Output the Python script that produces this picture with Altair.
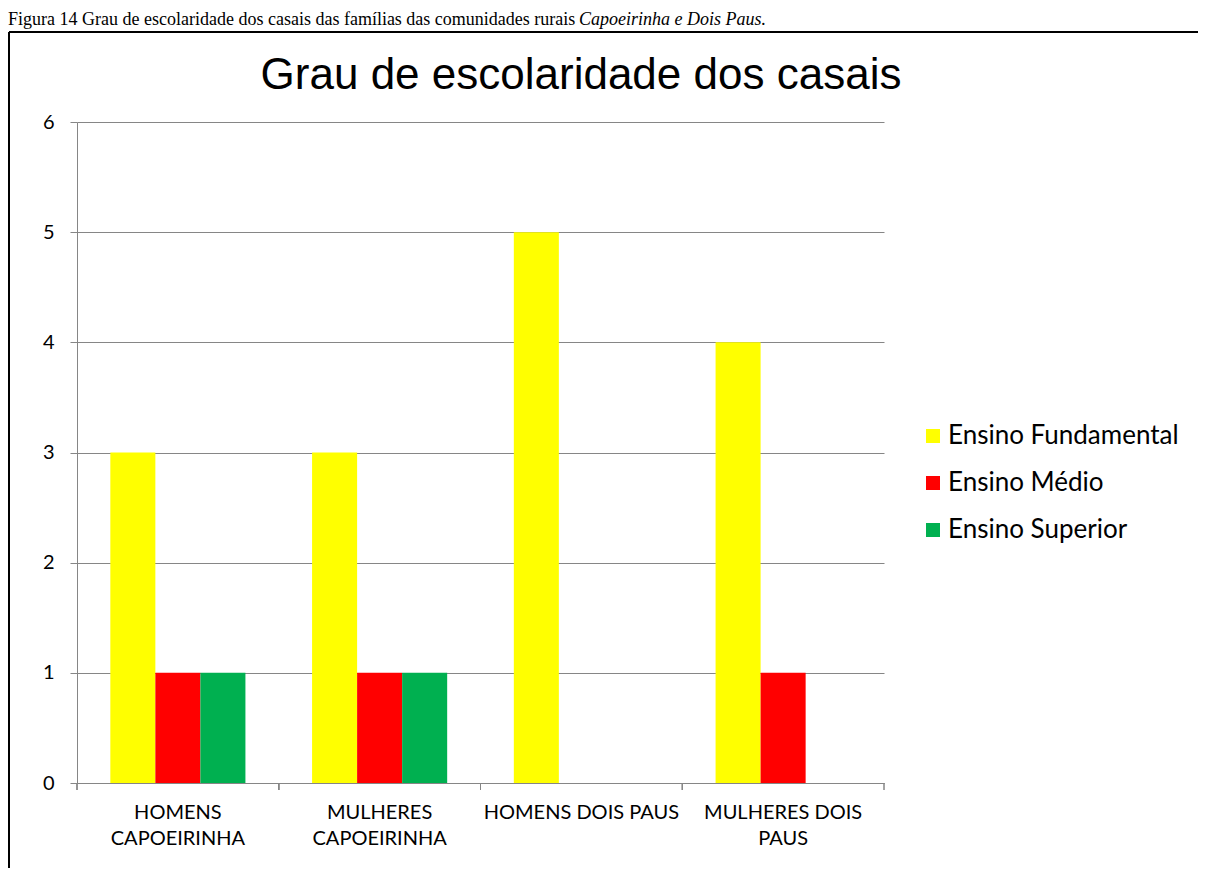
import altair as alt
import pandas as pd

# ---- data ----
categories = ["HOMENS CAPOEIRINHA", "MULHERES CAPOEIRINHA", "HOMENS DOIS PAUS", "MULHERES DOIS PAUS"]
levels = ["Ensino Fundamental", "Ensino Médio", "Ensino Superior"]
fundamental = [3, 3, 5, 4]
medio = [1, 1, 0, 1]
superior = [1, 1, 0, 0]
colors = ["#FFFF00", "#FF0000", "#00B050"]

title_text = "Grau de escolaridade dos casais"
caption_plain = "Figura 14 Grau de escolaridade dos casais das famílias das comunidades rurais"
caption_italic = "Capoeirinha e Dois Paus."

label_lines = {
    "HOMENS CAPOEIRINHA": ["HOMENS", "CAPOEIRINHA"],
    "MULHERES CAPOEIRINHA": ["MULHERES", "CAPOEIRINHA"],
    "HOMENS DOIS PAUS": ["HOMENS DOIS PAUS"],
    "MULHERES DOIS PAUS": ["MULHERES DOIS", "PAUS"],
}

rows = []
for i, c in enumerate(categories):
    for lvl, series in zip(levels, [fundamental, medio, superior]):
        if series[i] > 0:
            rows.append({"cat": c, "nivel": lvl, "valor": series[i]})
df = pd.DataFrame(rows)

W, H = 807, 661
PAD = {"left": 69, "top": 114, "right": 314, "bottom": 85}
GRAY = "#868686"
AXFONT = "Lato"

expr = ""
for k, v in label_lines.items():
    arr = "[" + ",".join("'" + s + "'" for s in v) + "]"
    expr += f"datum.label == '{k}' ? {arr} : "
expr += "datum.label"

x_enc = alt.X(
    "cat:N", sort=categories,
    scale=alt.Scale(paddingInner=0, paddingOuter=0),
    axis=alt.Axis(
        title=None, ticks=False, domainColor=GRAY, labelAngle=0,
        labelFont=AXFONT, labelFontSize=20, labelColor="#000000",
        labelPadding=19, labelLineHeight=26, labelExpr=expr, labelLimit=400,
    ),
)

bars = alt.Chart(df).mark_bar().encode(
    x=x_enc,
    xOffset=alt.XOffset("nivel:N", sort=levels,
                        scale=alt.Scale(domain=levels, paddingOuter=0.74, paddingInner=0)),
    y=alt.Y("valor:Q", scale=alt.Scale(domain=[0, 6]),
            axis=alt.Axis(title=None, values=[0, 1, 2, 3, 4, 5, 6], grid=True,
                          gridColor=GRAY, domainColor=GRAY, tickColor=GRAY, tickSize=7,
                          labelFont=AXFONT, labelFontSize=20, labelColor="#000000",
                          labelPadding=16)),
    color=alt.Color("nivel:N", sort=levels,
                    scale=alt.Scale(domain=levels, range=colors),
                    legend=alt.Legend(orient="none", legendX=843, legendY=301, title=None,
                                      symbolType="square", symbolSize=196, symbolStrokeWidth=0,
                                      labelFont=AXFONT, labelFontSize=26, labelColor="#000000",
                                      labelOffset=2, rowPadding=21, padding=0, labelLimit=400)),
)

ticks0 = alt.Chart(df).mark_rule(color=GRAY, strokeWidth=1).encode(
    x=alt.X("cat:N", sort=categories, bandPosition=0),
    y=alt.value(H), y2=alt.value(H + 7),
)
ticks1 = alt.Chart(df).mark_rule(color=GRAY, strokeWidth=1).encode(
    x=alt.X("cat:N", sort=categories, bandPosition=1),
    y=alt.value(H), y2=alt.value(H + 7),
)

one = pd.DataFrame({"t": [title_text]})
title_mark = alt.Chart(one).mark_text(
    font="Liberation Sans", fontSize=44, align="center", baseline="alphabetic", color="#000000"
).encode(text="t:N", x=alt.value(504), y=alt.value(-33))

cap = pd.DataFrame({"a": [caption_plain], "b": [caption_italic]})
cap1 = alt.Chart(cap).mark_text(
    font="Liberation Serif", fontSize=18, align="left", baseline="alphabetic", color="#000000"
).encode(text="a:N", x=alt.value(-69), y=alt.value(-97))
cap2 = alt.Chart(cap).mark_text(
    font="Liberation Serif", fontSize=18, fontStyle="italic", align="left",
    baseline="alphabetic", color="#000000"
).encode(text="b:N", x=alt.value(502), y=alt.value(-97))

frame_top = alt.Chart(one).mark_rule(color="#000000", strokeWidth=2).encode(
    x=alt.value(-68), x2=alt.value(1140), y=alt.value(-90))
frame_left = alt.Chart(one).mark_rule(color="#000000", strokeWidth=2).encode(
    x=alt.value(-68), y=alt.value(-90), y2=alt.value(780))

chart = alt.layer(
    frame_top, frame_left, cap1, cap2, title_mark, bars, ticks0, ticks1
).properties(
    width=W, height=H, autosize=alt.AutoSizeParams(type="none"), padding=PAD,
    background="white",
).configure_view(stroke=None)

chart.save("out.html", embed_options={"renderer": "svg", "actions": False})
